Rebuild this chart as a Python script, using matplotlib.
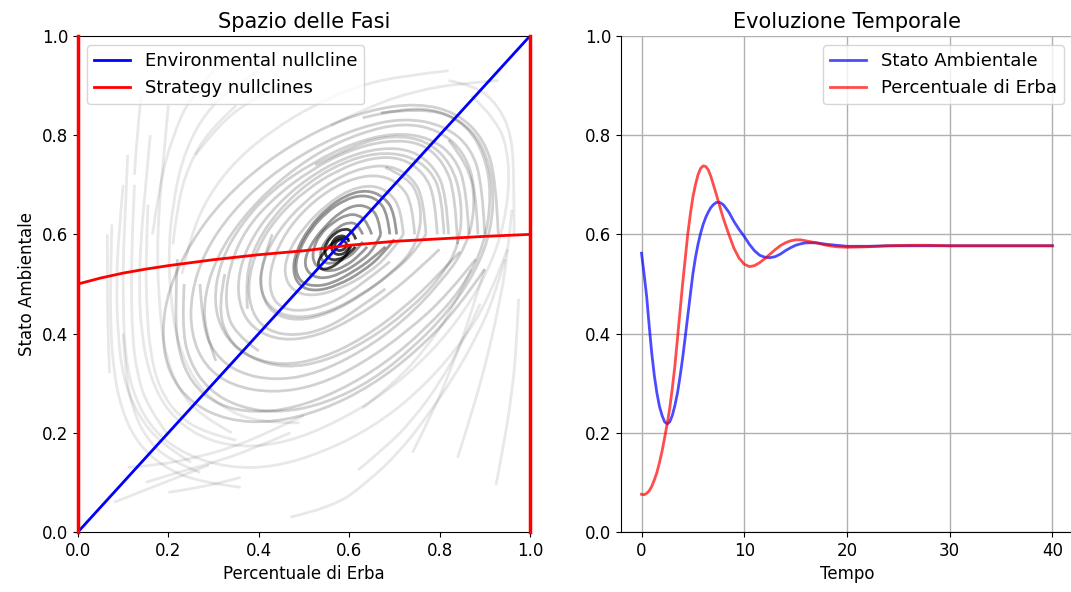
import matplotlib
matplotlib.use("Agg")
from matplotlib import pyplot as plt
from matplotlib.path import Path
from matplotlib.patches import PathPatch

plt.rcParams['font.size'] = 12

# --- phase space: nullclines ---
strategy_x = [0.0, 0.05, 0.1, 0.15, 0.2, 0.3, 0.4, 0.5, 0.6, 0.7, 0.8, 0.9, 1.0]
strategy_y = [0.500, 0.512, 0.522, 0.530, 0.537, 0.549, 0.559, 0.567, 0.578, 0.586, 0.591, 0.596, 0.600]
env_x = [0.0, 1.0]
env_y = [0.0, 1.0]

# --- phase space: trajectories (x = erba, y = ambiente) ---
core_loops = [
    [(0.595, 0.58), (0.59, 0.588), (0.58, 0.59), (0.57, 0.584), (0.567, 0.575), (0.572, 0.568),
     (0.582, 0.567), (0.592, 0.572), (0.595, 0.58)],
    [(0.60, 0.585), (0.595, 0.595), (0.58, 0.598), (0.565, 0.59), (0.56, 0.575), (0.565, 0.562),
     (0.58, 0.558), (0.595, 0.565), (0.60, 0.575)],
    [(0.60, 0.59), (0.585, 0.595), (0.565, 0.585), (0.545, 0.565), (0.53, 0.545), (0.535, 0.53),
     (0.555, 0.53), (0.58, 0.545), (0.60, 0.565), (0.605, 0.58)],
    [(0.615, 0.59), (0.607, 0.607), (0.59, 0.612), (0.568, 0.603), (0.548, 0.582), (0.545, 0.562),
     (0.555, 0.55), (0.575, 0.548), (0.60, 0.56), (0.614, 0.575)],
]

inner_loops = [
    [(0.63, 0.60), (0.62, 0.62), (0.60, 0.625), (0.575, 0.615), (0.55, 0.59), (0.535, 0.565),
     (0.54, 0.545), (0.56, 0.54), (0.59, 0.55), (0.615, 0.565), (0.63, 0.585)],
    [(0.65, 0.60), (0.64, 0.625), (0.62, 0.64), (0.595, 0.64), (0.565, 0.625), (0.535, 0.60),
     (0.52, 0.57), (0.52, 0.545), (0.535, 0.53), (0.56, 0.525), (0.59, 0.535), (0.62, 0.555),
     (0.64, 0.575)],
    [(0.67, 0.60), (0.665, 0.635), (0.645, 0.655), (0.615, 0.66), (0.58, 0.645), (0.545, 0.615),
     (0.515, 0.58), (0.50, 0.545), (0.51, 0.52), (0.54, 0.51), (0.58, 0.52), (0.625, 0.545),
     (0.655, 0.57), (0.67, 0.60)],
    [(0.69, 0.60), (0.685, 0.64), (0.665, 0.67), (0.63, 0.68), (0.59, 0.67), (0.55, 0.645),
     (0.515, 0.61), (0.49, 0.57), (0.48, 0.535), (0.49, 0.505), (0.52, 0.495), (0.56, 0.50),
     (0.61, 0.525), (0.65, 0.55), (0.68, 0.575)],
    [(0.705, 0.60), (0.70, 0.645), (0.678, 0.675), (0.64, 0.69), (0.595, 0.68), (0.55, 0.652),
     (0.51, 0.612), (0.482, 0.565), (0.475, 0.525), (0.49, 0.495), (0.525, 0.485), (0.575, 0.497),
     (0.63, 0.525), (0.675, 0.56), (0.70, 0.59)],
]

mid_loops = [
    [(0.72, 0.60), (0.715, 0.65), (0.69, 0.685), (0.65, 0.70), (0.60, 0.69), (0.55, 0.66),
     (0.50, 0.615), (0.465, 0.565), (0.455, 0.52), (0.475, 0.485), (0.52, 0.475), (0.58, 0.49),
     (0.64, 0.52), (0.69, 0.56), (0.72, 0.60)],
    [(0.745, 0.60), (0.74, 0.66), (0.715, 0.70), (0.67, 0.72), (0.615, 0.715), (0.555, 0.69),
     (0.495, 0.645), (0.45, 0.59), (0.425, 0.53), (0.425, 0.48), (0.45, 0.45), (0.50, 0.445),
     (0.56, 0.46), (0.63, 0.50), (0.69, 0.545)],
    [(0.43, 0.60), (0.405, 0.54), (0.405, 0.48), (0.43, 0.44), (0.485, 0.425), (0.555, 0.44),
     (0.625, 0.475), (0.69, 0.52), (0.74, 0.565), (0.76, 0.62), (0.755, 0.675), (0.73, 0.715),
     (0.68, 0.735)],
    [(0.77, 0.60), (0.765, 0.67), (0.74, 0.715), (0.69, 0.74), (0.63, 0.735), (0.565, 0.71),
     (0.50, 0.665), (0.445, 0.61), (0.41, 0.55), (0.40, 0.49), (0.43, 0.445), (0.49, 0.43),
     (0.56, 0.445), (0.63, 0.48), (0.70, 0.525), (0.75, 0.57), (0.77, 0.60)],
    [(0.795, 0.60), (0.79, 0.675), (0.765, 0.725), (0.715, 0.755), (0.65, 0.755), (0.575, 0.73),
     (0.505, 0.69), (0.44, 0.635), (0.395, 0.57), (0.375, 0.50), (0.385, 0.44), (0.42, 0.405),
     (0.48, 0.395), (0.55, 0.41), (0.62, 0.45), (0.68, 0.49)],
    [(0.81, 0.60), (0.805, 0.68), (0.78, 0.73), (0.73, 0.76), (0.66, 0.765), (0.585, 0.745),
     (0.51, 0.705), (0.445, 0.65), (0.395, 0.585), (0.37, 0.515), (0.375, 0.45)],
    [(0.82, 0.60), (0.815, 0.68), (0.79, 0.735), (0.74, 0.77), (0.67, 0.775), (0.59, 0.755),
     (0.51, 0.715), (0.44, 0.66), (0.385, 0.595), (0.355, 0.525), (0.355, 0.46), (0.385, 0.41),
     (0.45, 0.385), (0.53, 0.395), (0.61, 0.43), (0.69, 0.48), (0.76, 0.535), (0.80, 0.57)],
    [(0.84, 0.58), (0.835, 0.68), (0.81, 0.745), (0.76, 0.785), (0.685, 0.79), (0.60, 0.77),
     (0.515, 0.73), (0.435, 0.675), (0.37, 0.61), (0.335, 0.535), (0.325, 0.46), (0.345, 0.40),
     (0.40, 0.365)],
    [(0.325, 0.52), (0.31, 0.455), (0.33, 0.39), (0.38, 0.35), (0.46, 0.33), (0.55, 0.345),
     (0.64, 0.385), (0.73, 0.445), (0.80, 0.51), (0.845, 0.58), (0.85, 0.67), (0.825, 0.745),
     (0.77, 0.79), (0.695, 0.80), (0.61, 0.78), (0.525, 0.74)],
    [(0.865, 0.60), (0.86, 0.69), (0.835, 0.755), (0.78, 0.795), (0.70, 0.805), (0.61, 0.785),
     (0.52, 0.745), (0.43, 0.69), (0.36, 0.62), (0.315, 0.545), (0.30, 0.465), (0.32, 0.40),
     (0.37, 0.355), (0.45, 0.335), (0.54, 0.35), (0.63, 0.39), (0.72, 0.45), (0.80, 0.52),
     (0.845, 0.565)],
    [(0.27, 0.50), (0.275, 0.42), (0.30, 0.36), (0.355, 0.32), (0.44, 0.305), (0.53, 0.32),
     (0.63, 0.365), (0.72, 0.425), (0.80, 0.50), (0.86, 0.575), (0.88, 0.66), (0.865, 0.74),
     (0.82, 0.79)],
    [(0.885, 0.60), (0.88, 0.695), (0.855, 0.765), (0.80, 0.81), (0.72, 0.825), (0.625, 0.805),
     (0.53, 0.765), (0.44, 0.705), (0.365, 0.635), (0.31, 0.56), (0.28, 0.48), (0.28, 0.405),
     (0.305, 0.345)],
    [(0.90, 0.60), (0.895, 0.70), (0.87, 0.775), (0.81, 0.82), (0.72, 0.835), (0.62, 0.815),
     (0.52, 0.775), (0.42, 0.715), (0.34, 0.645), (0.28, 0.565), (0.25, 0.48), (0.25, 0.40),
     (0.28, 0.335), (0.34, 0.295), (0.43, 0.28), (0.53, 0.295), (0.63, 0.34), (0.73, 0.405),
     (0.82, 0.48), (0.88, 0.55)],
    [(0.235, 0.50), (0.23, 0.42), (0.245, 0.345), (0.29, 0.285), (0.36, 0.25), (0.45, 0.24),
     (0.55, 0.26), (0.65, 0.305), (0.74, 0.37), (0.82, 0.445), (0.88, 0.525), (0.915, 0.61),
     (0.92, 0.70), (0.895, 0.785), (0.84, 0.835), (0.76, 0.855), (0.67, 0.845)],
    [(0.22, 0.55), (0.215, 0.46), (0.22, 0.37), (0.25, 0.30), (0.31, 0.255), (0.39, 0.24),
     (0.48, 0.25), (0.58, 0.285), (0.68, 0.34), (0.77, 0.41), (0.85, 0.49), (0.90, 0.58),
     (0.915, 0.68), (0.90, 0.76), (0.86, 0.82), (0.80, 0.85), (0.72, 0.855), (0.63, 0.835)],
    [(0.93, 0.60), (0.925, 0.71), (0.90, 0.79), (0.84, 0.845), (0.75, 0.865), (0.64, 0.85),
     (0.53, 0.81), (0.42, 0.75), (0.32, 0.67), (0.25, 0.585), (0.20, 0.49), (0.185, 0.40),
     (0.20, 0.32), (0.25, 0.26), (0.33, 0.225), (0.43, 0.22), (0.54, 0.245), (0.65, 0.295),
     (0.75, 0.365), (0.84, 0.45), (0.90, 0.53)],
]

outer_arcs = [
    [(0.16, 0.80), (0.15, 0.70), (0.14, 0.60), (0.135, 0.50), (0.14, 0.40), (0.16, 0.31),
     (0.20, 0.24), (0.27, 0.19), (0.36, 0.17), (0.46, 0.18), (0.57, 0.22), (0.68, 0.28),
     (0.78, 0.36), (0.86, 0.45), (0.92, 0.55), (0.95, 0.65), (0.955, 0.75), (0.93, 0.83),
     (0.87, 0.88)],
    [(0.11, 0.76), (0.105, 0.65), (0.10, 0.55), (0.10, 0.45), (0.105, 0.35), (0.125, 0.27),
     (0.17, 0.20), (0.24, 0.155), (0.33, 0.13), (0.43, 0.13), (0.54, 0.16), (0.65, 0.21),
     (0.75, 0.28), (0.84, 0.37), (0.91, 0.47), (0.95, 0.57)],
    [(0.075, 0.62), (0.072, 0.52), (0.072, 0.42), (0.078, 0.33), (0.095, 0.25), (0.13, 0.18),
     (0.19, 0.13), (0.27, 0.10), (0.36, 0.09)],
    [(0.20, 0.86), (0.19, 0.76), (0.18, 0.66), (0.175, 0.56), (0.18, 0.46), (0.19, 0.37),
     (0.22, 0.29), (0.27, 0.235), (0.34, 0.20)],
    [(0.40, 0.93), (0.33, 0.89), (0.27, 0.83), (0.23, 0.75), (0.21, 0.66), (0.20, 0.57),
     (0.205, 0.47), (0.22, 0.38), (0.26, 0.30), (0.32, 0.25), (0.40, 0.22), (0.49, 0.22)],
    [(0.82, 0.93), (0.72, 0.92), (0.62, 0.90), (0.52, 0.86), (0.43, 0.81), (0.35, 0.75),
     (0.29, 0.68), (0.25, 0.60), (0.23, 0.52)],
    [(0.93, 0.91), (0.85, 0.905), (0.75, 0.89), (0.65, 0.86), (0.56, 0.82)],
    [(0.30, 0.93), (0.25, 0.88), (0.21, 0.80), (0.18, 0.70), (0.165, 0.60)],
    [(0.35, 0.86), (0.29, 0.81), (0.245, 0.74), (0.22, 0.66), (0.21, 0.58)],
    [(0.45, 0.90), (0.38, 0.87), (0.31, 0.82), (0.26, 0.76)],
    [(0.10, 0.70), (0.09, 0.60), (0.085, 0.50), (0.088, 0.40), (0.10, 0.31), (0.13, 0.24),
     (0.18, 0.18), (0.25, 0.14)],
    [(0.125, 0.70), (0.12, 0.60), (0.118, 0.50), (0.12, 0.40), (0.13, 0.32), (0.155, 0.25),
     (0.20, 0.195)],
    [(0.155, 0.66), (0.15, 0.55), (0.152, 0.45), (0.16, 0.36), (0.18, 0.29), (0.22, 0.235),
     (0.28, 0.20), (0.35, 0.185)],
    [(0.065, 0.60), (0.065, 0.50), (0.066, 0.40), (0.07, 0.32)],
    [(0.10, 0.40), (0.105, 0.32), (0.12, 0.25), (0.15, 0.19), (0.20, 0.145), (0.27, 0.12)],
    [(0.14, 0.88), (0.13, 0.80), (0.125, 0.72)],
    [(0.08, 0.06), (0.15, 0.085), (0.22, 0.11), (0.29, 0.135)],
    [(0.15, 0.10), (0.22, 0.12), (0.30, 0.14), (0.38, 0.165), (0.47, 0.20)],
    [(0.11, 0.13), (0.18, 0.135), (0.26, 0.15), (0.34, 0.17), (0.42, 0.20), (0.50, 0.235)],
    [(0.20, 0.08), (0.28, 0.09), (0.36, 0.11)],
    [(0.47, 0.03), (0.565, 0.05), (0.64, 0.10), (0.71, 0.16), (0.77, 0.23), (0.83, 0.31),
     (0.88, 0.39), (0.92, 0.47), (0.945, 0.55)],
    [(0.62, 0.125), (0.68, 0.17), (0.74, 0.225), (0.80, 0.30), (0.85, 0.38), (0.89, 0.46)],
    [(0.63, 0.25), (0.70, 0.30), (0.77, 0.37), (0.83, 0.45), (0.87, 0.53)],
    [(0.74, 0.16), (0.79, 0.25), (0.83, 0.34), (0.87, 0.44), (0.90, 0.53)],
    [(0.84, 0.15), (0.875, 0.25), (0.905, 0.35), (0.93, 0.45), (0.95, 0.55), (0.96, 0.65)],
    [(0.925, 0.095), (0.945, 0.19), (0.96, 0.28), (0.97, 0.37), (0.975, 0.47)],
    [(0.965, 0.60), (0.965, 0.70), (0.96, 0.80), (0.93, 0.86), (0.88, 0.90), (0.82, 0.91)],
]

# --- time evolution ---
t = [0, 0.25, 0.5, 0.75, 1, 1.25, 1.5, 1.75, 2, 2.25, 2.5, 2.75, 3, 3.25, 3.5, 3.75,
     4, 4.25, 4.5, 4.75, 5, 5.25, 5.5, 5.75, 6, 6.25, 6.5, 6.75, 7, 7.25, 7.5, 7.75,
     8, 8.5, 9, 9.5, 10, 10.5, 11, 11.5, 12, 12.5, 13, 13.5, 14, 14.5, 15, 15.5, 16,
     17, 18, 19, 20, 22, 24, 26, 28, 30, 35, 40]
ambiente = [0.562, 0.52, 0.475, 0.415, 0.36, 0.315, 0.28, 0.253, 0.235, 0.222, 0.218,
            0.222, 0.235, 0.255, 0.28, 0.313, 0.35, 0.392, 0.435, 0.478, 0.52, 0.553,
            0.58, 0.602, 0.62, 0.634, 0.645, 0.654, 0.66, 0.664, 0.665, 0.663, 0.659,
            0.645, 0.626, 0.61, 0.596, 0.58, 0.567, 0.558, 0.554, 0.553, 0.555, 0.56,
            0.567, 0.573, 0.578, 0.581, 0.583, 0.583, 0.580, 0.578, 0.576, 0.576, 0.577,
            0.577, 0.577, 0.577, 0.577, 0.577]
erba = [0.076, 0.075, 0.078, 0.083, 0.092, 0.105, 0.12, 0.14, 0.163, 0.19, 0.218,
        0.25, 0.29, 0.335, 0.39, 0.445, 0.50, 0.55, 0.60, 0.64, 0.675, 0.70, 0.72,
        0.733, 0.738, 0.737, 0.73, 0.717, 0.70, 0.683, 0.665, 0.647, 0.63, 0.60,
        0.572, 0.552, 0.54, 0.535, 0.537, 0.543, 0.551, 0.56, 0.569, 0.577, 0.583,
        0.587, 0.589, 0.589, 0.587, 0.583, 0.578, 0.575, 0.574, 0.575, 0.577, 0.578,
        0.578, 0.577, 0.577, 0.577]


def smooth_path(pts):
    # quadratic bezier through the midpoints, hand-read points act as control points
    if len(pts) == 2:
        return Path([pts[0], pts[1]], [Path.MOVETO, Path.LINETO])
    verts = [pts[0]]
    codes = [Path.MOVETO]
    for i in range(1, len(pts) - 1):
        if i == len(pts) - 2:
            end = pts[-1]
        else:
            end = ((pts[i][0] + pts[i + 1][0]) / 2, (pts[i][1] + pts[i + 1][1]) / 2)
        verts += [pts[i], end]
        codes += [Path.CURVE3, Path.CURVE3]
    return Path(verts, codes)


fig = plt.figure(figsize=(10.71, 5.92), dpi=100)
ax1 = fig.add_axes([0.0728, 0.1014, 0.422, 0.8378])
ax2 = fig.add_axes([0.5798, 0.1014, 0.422, 0.8378])

# trajectories
for group, a in [(outer_arcs, 0.09), (mid_loops, 0.18), (inner_loops, 0.4), (core_loops, 0.75)]:
    for traj in group:
        ax1.add_patch(PathPatch(smooth_path(traj), facecolor='none', edgecolor='black',
                                alpha=a, lw=2))

ax1.plot(env_x, env_y, color='blue', lw=2, label='Environmental nullcline')
ax1.plot(strategy_x, strategy_y, color='red', lw=2, label='Strategy nullclines')
ax1.axvline(0, color='red', lw=2.5, clip_on=False, zorder=5)
ax1.axvline(1, color='red', lw=2.5, clip_on=False, zorder=5)
ax1.set_xlim(0, 1)
ax1.set_ylim(0, 1)
ax1.set_xlabel('Percentuale di Erba')
ax1.set_ylabel('Stato Ambientale')
ax1.set_title('Spazio delle Fasi', fontsize=15)
ax1.legend(loc='upper left', fontsize=13)

ax2.plot(t, ambiente, color='blue', alpha=0.7, lw=2, label='Stato Ambientale')
ax2.plot(t, erba, color='red', alpha=0.7, lw=2, label='Percentuale di Erba')
ax2.set_xlim(-2, 42)
ax2.set_ylim(0, 1)
ax2.set_xticks([0, 10, 20, 30, 40])
ax2.set_xlabel('Tempo')
ax2.set_title('Evoluzione Temporale', fontsize=15)
ax2.grid(True, lw=1, color='#b0b0b0')
ax2.spines['top'].set_visible(False)
ax2.spines['right'].set_visible(False)
ax2.legend(loc='upper right', fontsize=13)

fig.savefig('out.png', dpi=100)
